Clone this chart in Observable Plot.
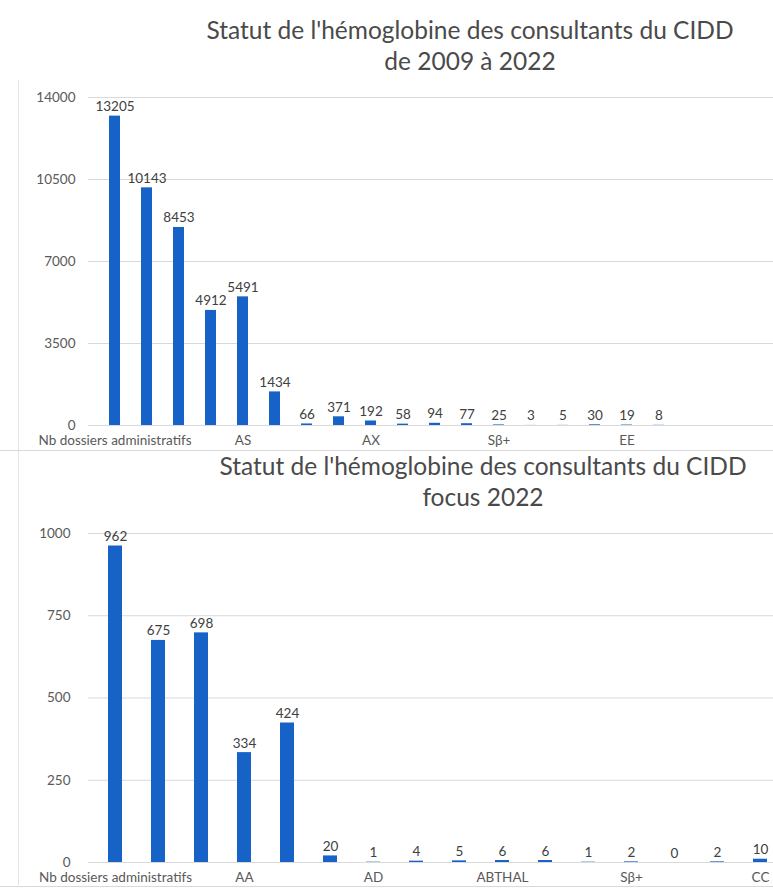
<!DOCTYPE html>
<html><head><meta charset="utf-8">
<script src="https://cdn.jsdelivr.net/npm/d3@7"></script>
<script src="https://cdn.jsdelivr.net/npm/@observablehq/plot@0.6"></script>
<style>
body{margin:0;background:#fff;font-family:Lato,"Open Sans",sans-serif;}
#page{position:relative;width:773px;height:889px;overflow:hidden;background:#fff;}
.title{position:absolute;width:600px;text-align:center;color:#4a4a4a;font-size:24.5px;line-height:31px;white-space:nowrap;}
.chart{position:absolute;left:0;}
.hsep{position:absolute;left:0;width:773px;height:1px;background:#d9d9d9;}
.vsep{position:absolute;left:18px;width:1px;top:80px;height:805px;background:#e4e4e4;}
</style></head>
<body><div id="page">
<div class="vsep"></div>
<div class="hsep" style="top:450px"></div>
<div class="hsep" style="top:886px"></div>
<div class="title" style="left:170px;top:14px">Statut de l'hémoglobine des consultants du CIDD<br>de 2009 à 2022</div>
<div class="title" style="left:183px;top:450px">Statut de l'hémoglobine des consultants du CIDD<br>focus 2022</div>
<div class="chart" id="c1" style="top:80px"></div>
<div class="chart" id="c2" style="top:515px"></div>
</div>
<script>
// Chart 1: 2009 à 2022
const valuesTop = [13205, 10143, 8453, 4912, 5491, 1434, 66, 371, 192, 58, 94, 77, 25, 3, 5, 30, 19, 8];
const labelsTop = ["Nb dossiers administratifs", "", "", "", "AS", "", "", "", "AX", "", "", "", "Sβ+", "", "", "", "EE", ""];
const yTicksTop = [0, 3500, 7000, 10500, 14000];

// Chart 2: focus 2022
const valuesBottom = [962, 675, 698, 334, 424, 20, 1, 4, 5, 6, 6, 1, 2, 0, 2, 10];
const labelsBottom = ["Nb dossiers administratifs", "", "", "AA", "", "", "AD", "", "", "ABTHAL", "", "", "Sβ+", "", "", "CC"];
const yTicksBottom = [0, 250, 500, 750, 1000];

const FONT = "Lato, 'Open Sans', sans-serif";
const BAR = "#1762c6";

function makeChart({values, labels, yTicks, height, marginTop, marginBottom, range, paddingInner, yPad, xPad}) {
  const data = values.map((v, i) => ({i, v}));
  return Plot.plot({
    width: 773, height, marginTop, marginBottom, marginLeft: 88, marginRight: 0,
    style: {fontFamily: FONT, fontSize: "13.5px", color: "#595959", background: "transparent", overflow: "visible"},
    x: {type: "band", domain: d3.range(values.length), range, paddingInner, paddingOuter: paddingInner / 2, align: 0.5,
        label: null, tickSize: 0, tickPadding: xPad, tickFormat: i => labels[i]},
    y: {domain: [0, yTicks[yTicks.length - 1]], ticks: yTicks, tickFormat: d => String(d), label: null, tickSize: 0, tickPadding: yPad},
    marks: [
      Plot.ruleY(yTicks, {stroke: "#d9d9d9", strokeWidth: 1.2}),
      Plot.barY(data, {x: "i", y: "v", fill: BAR}),
      Plot.text(data, {x: "i", y: "v", text: d => String(d.v), lineAnchor: "bottom", dy: -5, fill: "#404040", fontSize: 13.5})
    ]
  });
}

document.getElementById("c1").appendChild(makeChart({
  values: valuesTop, labels: labelsTop, yTicks: yTicksTop,
  height: 370, marginTop: 17, marginBottom: 25,
  range: [93.75, 678.75], paddingInner: 0.66, yPad: 13, xPad: 10
}));
document.getElementById("c2").appendChild(makeChart({
  values: valuesBottom, labels: labelsBottom, yTicks: yTicksBottom,
  height: 374, marginTop: 18, marginBottom: 27,
  range: [88.2, 786.9], paddingInner: 0.68, yPad: 18, xPad: 10
}));
</script>
</body></html>
